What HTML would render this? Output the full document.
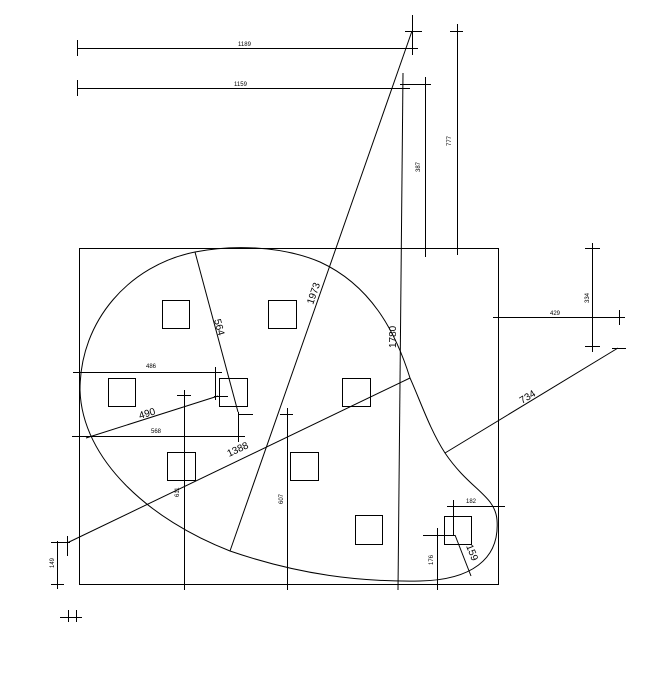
<!DOCTYPE html>
<html><head><meta charset="utf-8"><style>
html,body{margin:0;padding:0;background:#fff;width:665px;height:675px;overflow:hidden}
text{font-family:"Liberation Sans",sans-serif;fill:#000}
</style></head><body>
<svg width="665" height="675" viewBox="0 0 665 675" xmlns="http://www.w3.org/2000/svg">
<g fill="none" stroke="#000" stroke-width="1">
<rect x="79.5" y="248.5" width="419" height="336"/>
<rect x="162.5" y="300.5" width="27" height="28"/>
<rect x="268.5" y="300.5" width="28" height="28"/>
<rect x="108.5" y="378.5" width="27" height="28"/>
<rect x="219.5" y="378.5" width="28" height="28"/>
<rect x="342.5" y="378.5" width="28" height="28"/>
<rect x="167.5" y="452.5" width="28" height="28"/>
<rect x="290.5" y="452.5" width="28" height="28"/>
<rect x="355.5" y="515.5" width="27" height="29"/>
<rect x="444.5" y="516.5" width="27" height="28"/>
<path d="M195,252 C130,265 80,320 80,390 C82,460 150,520 230,551 C300,575 360,582 420,581 C470,580 500,560 497,520 C495,495 470,490 445,453 C430,430 420,400 410,378 C395,330 370,285 320,262 C280,245 230,245 195,252 Z"/>
<!-- top dims -->
<line x1="77" y1="48.5" x2="418" y2="48.5"/><line x1="77.5" y1="40" x2="77.5" y2="56"/>
<line x1="77" y1="88.5" x2="410" y2="88.5"/><line x1="77.5" y1="80" x2="77.5" y2="96"/>
<line x1="412.5" y1="15" x2="412.5" y2="55"/><line x1="405" y1="31.5" x2="422" y2="31.5"/>
<line x1="412" y1="31" x2="230" y2="551"/>
<line x1="403" y1="73" x2="398" y2="590"/><line x1="400" y1="84.5" x2="431" y2="84.5"/>
<line x1="425.5" y1="77" x2="425.5" y2="257"/>
<line x1="457.5" y1="24" x2="457.5" y2="255"/><line x1="450" y1="31.5" x2="463" y2="31.5"/>
<line x1="410" y1="378" x2="67" y2="543"/>
<line x1="618" y1="348" x2="445" y2="453"/><line x1="612" y1="348.5" x2="626" y2="348.5"/>
<line x1="592.5" y1="243" x2="592.5" y2="352"/><line x1="585" y1="248.5" x2="600" y2="248.5"/><line x1="585" y1="346.5" x2="600" y2="346.5"/>
<line x1="493" y1="317.5" x2="625" y2="317.5"/><line x1="619.5" y1="310" x2="619.5" y2="325"/>
<line x1="195" y1="252" x2="238" y2="412"/>
<line x1="73" y1="372.5" x2="222" y2="372.5"/><line x1="215.5" y1="367" x2="215.5" y2="400"/>
<line x1="72" y1="436.5" x2="245" y2="436.5"/><line x1="238.5" y1="412" x2="238.5" y2="442"/><line x1="238" y1="414.5" x2="253" y2="414.5"/>
<line x1="86" y1="438" x2="218" y2="396"/><line x1="214" y1="396.5" x2="228" y2="396.5"/>
<line x1="184.5" y1="390" x2="184.5" y2="590"/><line x1="177" y1="395.5" x2="191" y2="395.5"/>
<line x1="287.5" y1="408" x2="287.5" y2="590"/><line x1="280" y1="414.5" x2="293" y2="414.5"/>
<line x1="57.5" y1="541" x2="57.5" y2="589"/><line x1="51" y1="542.5" x2="70" y2="542.5"/><line x1="51" y1="584.5" x2="64" y2="584.5"/>
<line x1="67.5" y1="536" x2="67.5" y2="556"/>
<line x1="437.5" y1="528" x2="437.5" y2="590"/><line x1="423" y1="535.5" x2="455" y2="535.5"/>
<line x1="447" y1="506.5" x2="505" y2="506.5"/><line x1="453.5" y1="500" x2="453.5" y2="535"/>
<line x1="455" y1="535" x2="471" y2="576"/>
<line x1="60" y1="617.5" x2="82" y2="617.5"/><line x1="68.5" y1="610" x2="68.5" y2="622"/><line x1="76.5" y1="610" x2="76.5" y2="622"/>
</g>
<g font-size="6">
<text x="238" y="46">1189</text>
<text x="234" y="86">1159</text>
<text x="146" y="368" font-size="6">486</text>
<text x="151" y="433">568</text>
<text x="550" y="315">429</text>
<text x="466" y="503">182</text>
<text transform="translate(420,172) rotate(-90)">387</text>
<text transform="translate(451,146) rotate(-90)">777</text>
<text transform="translate(589,303) rotate(-90)">334</text>
<text transform="translate(179,497) rotate(-90)">611</text>
<text transform="translate(283,504) rotate(-90)">607</text>
<text transform="translate(54,568) rotate(-90)">149</text>
<text transform="translate(433,565) rotate(-90)">176</text>
</g>
<g font-size="10">
<text transform="translate(313,305) rotate(-71)">1973</text>
<text transform="translate(396,348) rotate(-90)">1780</text>
<text transform="translate(229,457) rotate(-25)">1388</text>
<text transform="translate(522,404) rotate(-31)">734</text>
<text transform="translate(214,320) rotate(75)">564</text>
<text transform="translate(140,419) rotate(-17)">490</text>
<text transform="translate(466,546) rotate(68)">159</text>
</g>
</svg>
</body></html>
